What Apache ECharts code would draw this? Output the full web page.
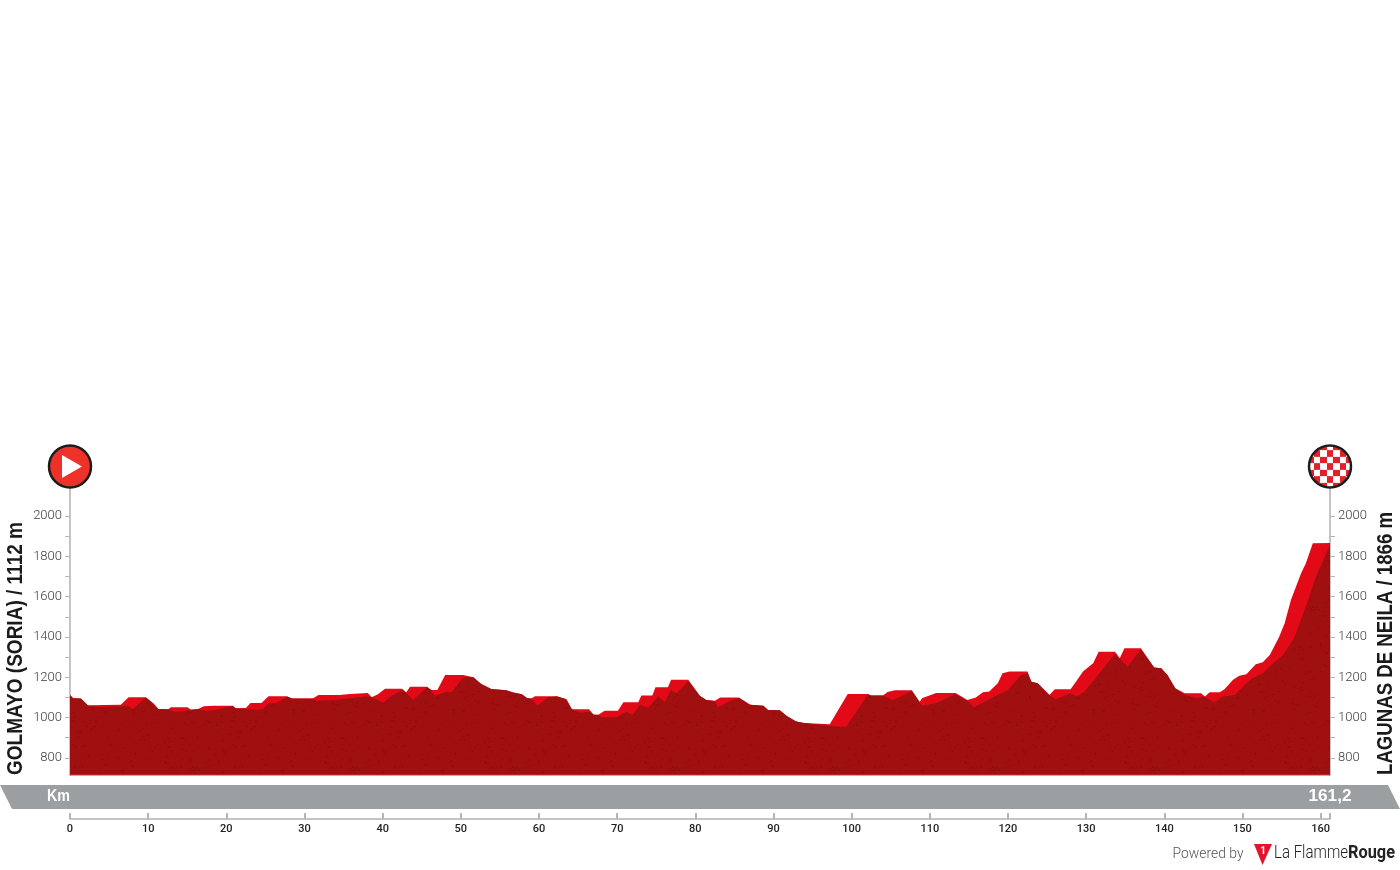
<!DOCTYPE html>
<html><head><meta charset="utf-8">
<style>html,body{margin:0;padding:0;background:#fff}#c{width:1400px;height:870px}</style>
<script src="https://cdn.jsdelivr.net/npm/echarts@6/dist/echarts.min.js"></script>
</head><body><div id="c"></div>
<script>
var routeKm=[0,0.4,1.4,2.3,6.5,7.5,9.7,10.7,11.3,12.6,12.9,15.0,15.5,16.4,17.1,18.5,20.8,21.2,22.5,23.1,24.5,25.4,27.7,28.4,31.1,31.8,34.5,35.8,38.1,38.6,39.4,40.3,42.5,43.0,43.5,45.7,46.2,47.0,48.0,50.3,51.6,52.6,53.9,55.8,56.7,57.8,58.5,59.0,59.5,62.3,63.5,64.2,66.4,67.0,67.6,68.4,70.1,70.8,72.7,73.1,74.5,74.9,76.5,76.9,79.1,80.6,81.4,82.5,83.2,85.6,87.0,88.7,89.3,90.8,91.7,92.9,93.9,94.1,97.2,99.5,102.1,102.5,104.0,104.6,105.5,107.7,108.7,109.0,110.8,113.3,114.8,115.9,116.8,117.6,118.7,119.3,120.2,122.5,123.0,123.8,125.3,126.0,128.0,128.7,129.6,130.9,131.6,133.7,134.3,134.9,137.0,138.7,139.6,140.4,141.4,142.6,144.7,145.2,145.8,147.1,147.7,148.8,149.6,150.5,151.7,152.6,153.5,154.7,155.4,156.2,157.5,158.1,159.0,161.2];
var routeElev=[1112,1096,1094,1061,1064,1101,1101,1068,1043,1041,1051,1051,1039,1043,1056,1059,1059,1046,1048,1072,1072,1106,1106,1094,1096,1112,1112,1117,1122,1101,1116,1143,1143,1124,1153,1153,1137,1137,1211,1211,1200,1167,1142,1135,1124,1116,1096,1094,1106,1106,1091,1041,1041,1014,1014,1034,1034,1076,1076,1109,1109,1150,1150,1188,1188,1107,1087,1084,1099,1099,1064,1058,1038,1036,1008,980,973,967,967,1117,1117,1109,1109,1127,1135,1135,1077,1096,1122,1122,1087,1099,1126,1129,1170,1220,1228,1228,1178,1170,1112,1140,1140,1178,1228,1269,1327,1327,1294,1344,1344,1248,1245,1211,1145,1121,1121,1104,1126,1126,1140,1187,1208,1215,1264,1274,1311,1401,1468,1583,1716,1765,1865,1866];
var shadeKm=[0,0.4,1.4,2.3,3.8,6.4,7.5,8.0,9.7,10.7,11.3,12.6,13.4,14.5,15.5,16.4,17.5,18.5,20.8,21.2,22.5,23.9,24.7,25.4,26.4,27.8,28.4,31.1,31.5,33.7,35.8,37.9,38.6,40.1,40.9,42.5,43.0,43.9,45.7,46.2,46.7,48.2,48.8,50.3,51.6,52.6,53.9,55.8,56.7,57.8,58.5,59.0,59.8,61.2,62.3,63.5,64.2,65.2,66.4,67.0,67.6,68.0,69.9,71.2,72.0,72.9,74.0,75.2,76.1,76.9,77.6,79.1,80.6,81.4,82.5,82.9,84.2,85.6,87.0,88.7,89.3,90.8,91.7,92.9,93.9,94.1,97.2,99.3,102.1,102.5,104.0,105.3,107.7,108.7,109.0,110.8,113.3,114.8,115.7,117.6,120.0,121.7,122.5,123.0,123.8,125.3,126.1,128.0,128.8,129.8,131.7,133.7,134.3,135.3,137.0,138.7,139.6,140.4,141.4,142.6,144.1,145.1,146.4,147.5,149.0,150.5,151.3,152.6,153.9,155.2,156.6,158.4,159.4,161.2];
var shadeElev=[1112,1096,1094,1058,1053,1056,1056,1041,1099,1068,1043,1041,1028,1031,1039,1043,1033,1036,1058,1046,1043,1039,1043,1071,1071,1104,1094,1092,1084,1087,1096,1104,1101,1074,1101,1137,1124,1087,1150,1137,1107,1129,1124,1200,1200,1167,1142,1135,1124,1116,1096,1094,1058,1101,1104,1091,1041,1024,1029,1014,1014,1001,1001,1029,1013,1063,1049,1104,1079,1137,1120,1182,1107,1087,1081,1051,1079,1096,1064,1058,1038,1036,1008,980,973,967,958,955,1114,1109,1109,1087,1132,1077,1058,1071,1117,1082,1051,1091,1137,1211,1220,1178,1170,1112,1091,1121,1104,1129,1220,1316,1294,1253,1339,1248,1245,1211,1145,1112,1096,1104,1076,1104,1112,1170,1195,1220,1269,1311,1393,1583,1699,1856];
var elevTicks=[800,900,1000,1100,1200,1300,1400,1500,1600,1700,1800,1900,2000];
var elevLabels=[800,1000,1200,1400,1600,1800,2000];
var kmLabels=[0,10,20,30,40,50,60,70,80,90,100,110,120,130,140,150,160];
var kmTicks=kmLabels.concat([161.2]);
var startName='GOLMAYO (SORIA) / 1112 m';
var finishName='LAGUNAS DE NEILA / 1866 m';
var totalKm='161,2';

function pairs(a,b){return a.map(function(v,i){return [v,b[i]];});}
function yAxis(pos){return {type:'value',position:pos,min:715,max:2139,splitLine:{show:false},
  axisLine:{show:true,onZero:false,lineStyle:{color:'#c4c4c4',width:2}},
  axisTick:{show:true,length:5,customValues:elevTicks,lineStyle:{color:'#b5b5b5',width:1}},
  axisLabel:{show:true,customValues:elevLabels,margin:8,color:'#3c3c3c',fontSize:13,fontFamily:'Roboto',fontWeight:300,
    formatter:function(v){return String(v);}}};}

var meter=document.createElement('canvas').getContext('2d');
// text squeezed along its reading direction so it fills a given length (the narrow face is not installed)
function fitted(text,font,len,x,y,fill,rot,align){
  meter.font=font;var w=meter.measureText(text).width;
  return {type:'text',x:x,y:y,rotation:rot||0,scaleX:len/w,style:{text:text,fill:fill,font:font,align:align||'left',verticalAlign:'middle'}};
}
function checkerCanvas(){
  var s=3,cv=document.createElement('canvas');cv.width=cv.height=44*s;
  var c=cv.getContext('2d');c.scale(s,s);
  c.fillStyle='#fff';c.beginPath();c.arc(22,22,21.5,0,Math.PI*2);c.fill();c.clip();
  c.fillStyle='#e3202a';var q=6.5;
  for(var i=-4;i<=4;i++){for(var j=-4;j<=4;j++){if(((i+j)%2+2)%2===0){c.fillRect(22+(j-0.5)*q,22+(i-0.5)*q,q,q);}}}
  return cv;
}
function speckle(){
  var n=160,cv=document.createElement('canvas');cv.width=cv.height=n;
  var c=cv.getContext('2d');c.fillStyle='#a01010';c.fillRect(0,0,n,n);
  for(var k=0;k<420;k++){
    var h=Math.abs(Math.sin(k*12.9898)*43758.5453),h2=Math.abs(Math.sin(k*78.233)*24634.6345);
    var x=Math.floor((h-Math.floor(h))*n),y=Math.floor((h2-Math.floor(h2))*n);
    c.fillStyle=k%3===0?'rgba(120,8,8,0.45)':'rgba(140,10,10,0.45)';
    c.fillRect(x,y,1+k%3,1+(k>>2)%2);
  }
  return cv;
}

var g=[];
g.push({type:'polygon',silent:true,shape:{points:[[0,785],[1388,785],[1400,809],[12,809]]},style:{fill:'#9c9fa2'}});
g.push({type:'rect',silent:true,shape:{x:70,y:774.5,width:1260,height:1},style:{fill:'#c8363a'},z:20});
g.push(fitted('Km',"bold 17px 'Liberation Sans'",23,47,796,'#fff'));
g.push(fitted(totalKm,"bold 17px 'Liberation Sans'",43,1308.5,796,'#fff'));
g.push(fitted(startName,"bold 22px 'Liberation Sans'",253,15.5,775,'#1a1a1a',Math.PI/2));
g.push(fitted(finishName,"bold 22px 'Liberation Sans'",263,1385.5,775,'#1a1a1a',Math.PI/2));
// start icon
g.push({type:'circle',shape:{cx:70,cy:466.5,r:21},style:{fill:'#ee3229',stroke:'#1c1c1c',lineWidth:2.5},z:30});
g.push({type:'polygon',shape:{points:[[62,455],[62,478],[82,466.5]]},style:{fill:'#fff'},z:31});
// finish icon
g.push({type:'image',style:{image:checkerCanvas(),x:1308,y:444.5,width:44,height:44},z:30});
g.push({type:'circle',shape:{cx:1330,cy:466.5,r:21},style:{fill:'none',stroke:'#1c1c1c',lineWidth:2.5},z:32});
// branding
g.push(fitted('Powered by',"300 14px Roboto",71,1172.5,854.5,'#555'));
g.push({type:'polygon',shape:{points:[[1254,844],[1272,844],[1262.5,865]]},style:{fill:'#e4122d'}});
g.push({type:'text',x:1263,y:851,style:{text:'1',fill:'#fff',font:"bold 10px Roboto",align:'center',verticalAlign:'middle'}});
g.push(fitted('La Flamme',"300 17.5px Roboto",74,1274,854,'#222'));
g.push(fitted('Rouge',"700 17.5px Roboto",47,1348,854,'#222'));

var chart=echarts.init(document.getElementById('c'),null,{renderer:'canvas'});
chart.setOption({animation:false,backgroundColor:'#fff',
  grid:{left:70,right:70,top:488,bottom:95,containLabel:false},
  xAxis:{type:'value',min:0,max:161.2,offset:44,splitLine:{show:false},
    axisLine:{show:true,onZero:false,lineStyle:{color:'#c4c4c4',width:2}},
    axisTick:{show:true,inside:true,length:6,customValues:kmTicks,lineStyle:{color:'#b5b5b5',width:2}},
    axisLabel:{show:true,customValues:kmLabels,margin:5,color:'#222',fontSize:11,fontFamily:'Roboto',fontWeight:500,
      formatter:function(v){return String(v);}}},
  yAxis:[yAxis('left'),yAxis('right')],
  series:[
    {name:'Route',type:'line',data:pairs(routeKm,routeElev),symbol:'none',lineStyle:{width:0},areaStyle:{color:'#e30a17',opacity:1},z:2},
    {name:'Shade',type:'line',data:pairs(shadeKm,shadeElev),symbol:'none',lineStyle:{width:0},areaStyle:{color:{image:speckle(),repeat:'repeat'},opacity:1},z:3}
  ],
  graphic:g
});
</script></body></html>
